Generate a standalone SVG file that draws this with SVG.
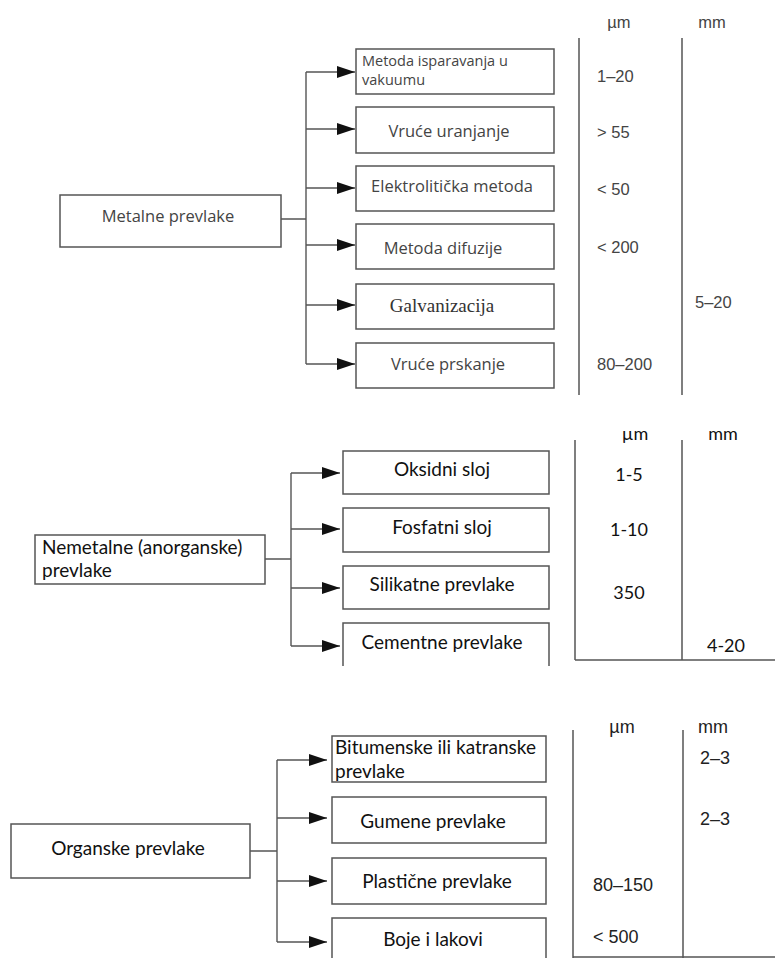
<svg xmlns="http://www.w3.org/2000/svg" width="775" height="958" viewBox="0 0 775 958">
<style>
.box{fill:#fff;stroke:#555;stroke-width:1.5}
.ln{fill:none;stroke:#555;stroke-width:1.4}
.arr{fill:none;stroke:#555;stroke-width:1.4;marker-end:url(#ah)}
.tbl{fill:none;stroke:#555;stroke-width:1.5}
.t1{font-family:"Open Sans","Noto Sans",sans-serif;font-size:16.5px;fill:#444;text-anchor:middle;dominant-baseline:central}
.t1s{font-family:"Open Sans","Noto Sans",sans-serif;font-size:14.5px;fill:#444}
.ser{font-family:"Liberation Serif",serif;font-size:19px;fill:#333;text-anchor:middle;dominant-baseline:central}
.n1{font-family:"Liberation Sans",Arial,sans-serif;font-size:16.5px;fill:#444;dominant-baseline:central}
.t2{font-family:Lato,"Open Sans",sans-serif;font-size:19px;fill:#111;text-anchor:middle;dominant-baseline:central}
.t2l{font-family:Lato,"Open Sans",sans-serif;font-size:19px;fill:#111}
.n2{font-family:Lato,"Open Sans",sans-serif;font-size:18px;fill:#111;text-anchor:middle;dominant-baseline:central}
.n3{font-family:"Liberation Sans",Arial,sans-serif;font-size:18px;fill:#222;dominant-baseline:central}
</style>
<defs>
<marker id="ah" markerUnits="userSpaceOnUse" markerWidth="18" markerHeight="12" refX="18" refY="6" orient="auto">
<path d="M0,0 L18,6 L0,12 Z" fill="#111"/>
</marker>
</defs>

<!-- Section 1 -->
<g id="metalne"><rect class="box" x="60" y="195" width="221" height="52"/><text class="t1" x="168" y="215">Metalne prevlake</text></g>
<g id="m1"><rect class="box" x="356" y="49" width="198" height="45"/><text class="t1s" x="362" y="66">Metoda isparavanja u</text><text class="t1s" x="362" y="85">vakuumu</text></g>
<g id="m2"><rect class="box" x="356" y="107" width="198" height="46"/><text class="t1" x="449" y="130">Vruće uranjanje</text></g>
<g id="m3"><rect class="box" x="356" y="166" width="198" height="45"/><text class="t1" x="452" y="185">Elektrolitička metoda</text></g>
<g id="m4"><rect class="box" x="356" y="224" width="198" height="45"/><text class="t1" x="443" y="247">Metoda difuzije</text></g>
<g id="m5"><rect class="box" x="356" y="284" width="198" height="45"/><text class="ser" x="442" y="305">Galvanizacija</text></g>
<g id="m6"><rect class="box" x="356" y="343" width="198" height="45"/><text class="t1" x="448" y="363">Vruće prskanje</text></g>
<g id="table1">
<line class="tbl" x1="579" y1="38" x2="579" y2="395"/>
<line class="tbl" x1="682" y1="38" x2="682" y2="395"/>
<text class="n1" x="619" y="22" text-anchor="middle" font-size="15">µm</text>
<text class="n1" x="712" y="22" text-anchor="middle" font-size="15">mm</text>
<text class="n1" x="597" y="76">1–20</text>
<text class="n1" x="597" y="132">&gt; 55</text>
<text class="n1" x="597" y="189">&lt; 50</text>
<text class="n1" x="597" y="247">&lt; 200</text>
<text class="n1" x="597" y="364">80–200</text>
<text class="n1" x="695" y="302">5–20</text>
</g>

<!-- Section 2 -->
<g id="nemetalne"><rect class="box" x="35" y="535" width="230" height="49"/><text class="t2l" x="42" y="554">Nemetalne (anorganske)</text><text class="t2l" x="42" y="577">prevlake</text></g>
<g id="n1"><rect class="box" x="343" y="451" width="206" height="43"/><text class="t2" x="442" y="468">Oksidni sloj</text></g>
<g id="n2"><rect class="box" x="343" y="508" width="206" height="44"/><text class="t2" x="442" y="526">Fosfatni sloj</text></g>
<g id="n3"><rect class="box" x="343" y="566" width="206" height="43"/><text class="t2" x="442" y="583">Silikatne prevlake</text></g>
<g id="n4"><path class="box" d="M343,666 L343,623 L549,623 L549,666"/><text class="t2" x="442" y="641">Cementne prevlake</text></g>
<g id="table2">
<line class="tbl" x1="575" y1="440" x2="575" y2="660"/>
<line class="tbl" x1="682" y1="440" x2="682" y2="660"/>
<line class="tbl" x1="575" y1="660" x2="775" y2="660"/>
<text class="n2" x="635" y="433">µm</text>
<text class="n2" x="723" y="433">mm</text>
<text class="n2" x="629" y="474">1-5</text>
<text class="n2" x="629" y="529">1-10</text>
<text class="n2" x="629" y="592">350</text>
<text class="n2" x="726" y="645">4-20</text>
</g>

<!-- Section 3 -->
<g id="organske"><rect class="box" x="11" y="824" width="239" height="54"/><text class="t2" x="128" y="847">Organske prevlake</text></g>
<g id="o1"><rect class="box" x="332" y="736" width="214" height="46"/><text class="t2l" x="335" y="754">Bitumenske ili katranske</text><text class="t2l" x="335" y="778">prevlake</text></g>
<g id="o2"><rect class="box" x="332" y="797" width="214" height="46"/><text class="t2" x="433" y="820">Gumene prevlake</text></g>
<g id="o3"><rect class="box" x="332" y="858" width="214" height="46"/><text class="t2" x="437" y="880">Plastične prevlake</text></g>
<g id="o4"><path class="box" d="M332,960 L332,918 L546,918 L546,960"/><text class="t2" x="433" y="938">Boje i lakovi</text></g>
<g id="table3">
<line class="tbl" x1="573" y1="730" x2="573" y2="958"/>
<line class="tbl" x1="683" y1="730" x2="683" y2="958"/>
<line class="tbl" x1="573" y1="957" x2="775" y2="957"/>
<text class="n3" x="622" y="727" text-anchor="middle" font-size="17">µm</text>
<text class="n3" x="713" y="727" text-anchor="middle" font-size="17">mm</text>
<text class="n3" x="700" y="758">2–3</text>
<text class="n3" x="700" y="819">2–3</text>
<text class="n3" x="593" y="885">80–150</text>
<text class="n3" x="593" y="937">&lt; 500</text>
</g>

<g id="connectors">
<path class="ln" d="M281,219 H306 M306,72 V364"/>
<path class="arr" d="M306,72 H355"/>
<path class="arr" d="M306,129 H355"/>
<path class="arr" d="M306,188 H355"/>
<path class="arr" d="M306,245 H355"/>
<path class="arr" d="M306,305 H355"/>
<path class="arr" d="M306,364 H355"/>
<path class="ln" d="M265,559 H291 M291,473 V646"/>
<path class="arr" d="M291,473 H340"/>
<path class="arr" d="M291,529 H340"/>
<path class="arr" d="M291,588 H340"/>
<path class="arr" d="M291,646 H340"/>
<path class="ln" d="M250,851 H277 M277,760 V942"/>
<path class="arr" d="M277,760 H327"/>
<path class="arr" d="M277,818 H327"/>
<path class="arr" d="M277,881 H327"/>
<path class="arr" d="M277,942 H327"/>
</g>
</svg>
